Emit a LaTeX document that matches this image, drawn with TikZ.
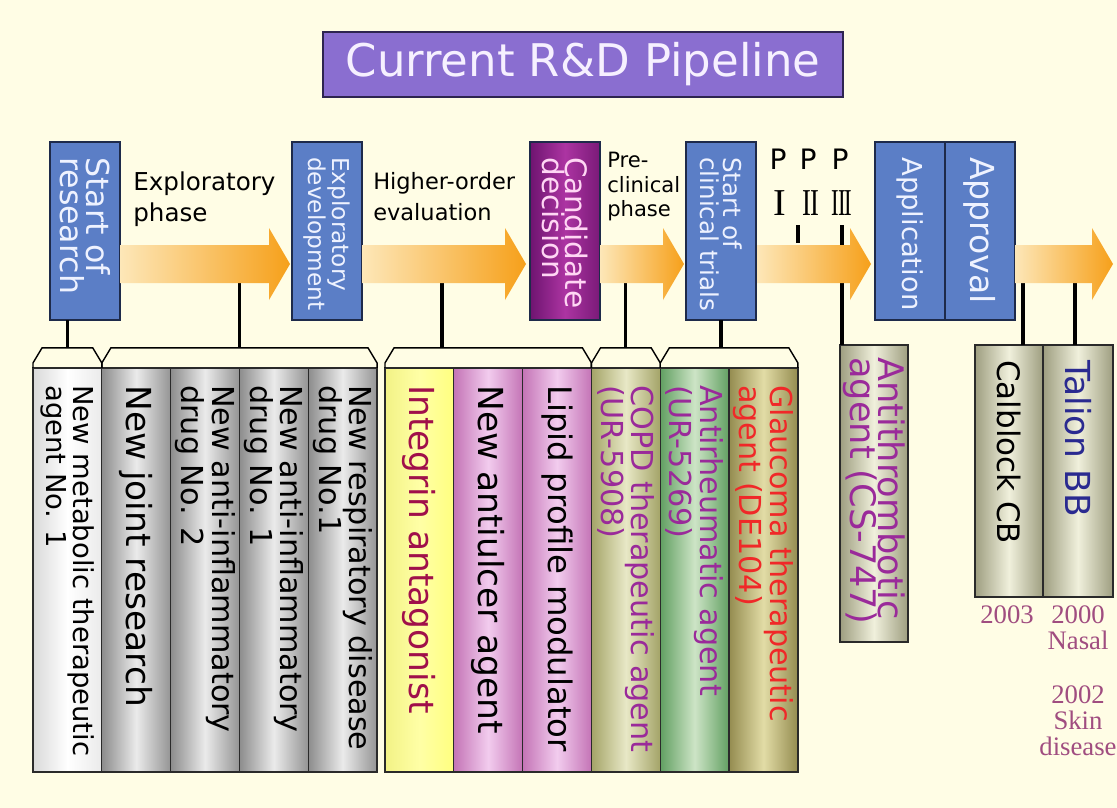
\documentclass[tikz,border=0pt]{standalone}
\usepackage{fontspec}
\setmainfont{DejaVu Sans}
\newfontfamily\serifnum{Liberation Serif}
\usepackage{graphicx}
\usetikzlibrary{positioning,calc}
\definecolor{bgcream}{HTML}{FFFDE5}
\definecolor{titlepurple}{HTML}{8A6ED0}
\definecolor{titleline}{HTML}{2E2450}
\definecolor{titlefont}{HTML}{F6F0FF}
\definecolor{stageblue}{HTML}{5B7EC6}
\definecolor{stageline}{HTML}{1E2A4A}
\definecolor{stagefont}{HTML}{EEF2FF}
\definecolor{candleft}{HTML}{6E1470}
\definecolor{candmid}{HTML}{AC34A2}
\definecolor{candright}{HTML}{7A1A78}
\definecolor{candfont}{HTML}{FFD6F4}
\definecolor{flowpale}{HTML}{FDE7B8}
\definecolor{floworange}{HTML}{F6A01A}
\definecolor{barline}{HTML}{2A2A2A}
\definecolor{yearplum}{HTML}{A04D80}
\definecolor{integrinred}{HTML}{A0104A}
\definecolor{codepurple}{HTML}{9A2A9A}
\definecolor{glaucred}{HTML}{F02828}
\definecolor{talionblue}{HTML}{2A2A90}
\definecolor{oliveedge}{HTML}{A4A468}
\definecolor{olivemid}{HTML}{E8E8C6}
\definecolor{goldedge}{HTML}{948C50}
\definecolor{goldmid}{HTML}{E2DCA6}
\definecolor{greenedge}{HTML}{62A062}
\definecolor{greenmid}{HTML}{CDE4C6}
\definecolor{pinkedge}{HTML}{C474B6}
\definecolor{pinkmid}{HTML}{F2CCEE}
\definecolor{khakiedge}{HTML}{9E9E80}
\definecolor{khakimid}{HTML}{F0F0DC}

\begin{document}
\begin{tikzpicture}[x=0.025cm, y=-0.025cm,
  stagebox/.style={rectangle, draw=stageline, line width=1.2pt, fill=stageblue,
    minimum width=1.75cm, minimum height=4.45cm, inner sep=0pt, outer sep=0pt},
  stagetext/.style={rotate=-90, anchor=west, inner sep=0pt, align=left, text=stagefont},
  barbox/.style={rectangle, draw=barline, line width=0.9pt, minimum width=1.72cm,
    minimum height=10.1cm, inner sep=0pt, outer sep=0pt},
  whitebar/.style={barbox, left color=black!15, right color=black!8, middle color=white},
  greybar/.style={barbox, left color=black!45, right color=black!42, middle color=black!8},
  yellowbar/.style={barbox, left color=yellow!45!white!95!black, right color=yellow!50, middle color=yellow!35},
  pinkbar/.style={barbox, left color=pinkedge, right color=pinkedge, middle color=pinkmid},
  olivebar/.style={barbox, left color=oliveedge, right color=oliveedge, middle color=olivemid},
  greenbar/.style={barbox, left color=greenedge, right color=greenedge, middle color=greenmid},
  goldbar/.style={barbox, left color=goldedge, right color=goldedge, middle color=goldmid},
  khakibar/.style={barbox, minimum width=1.7cm, left color=khakiedge, right color=khakiedge, middle color=khakimid},
  bartext/.style={rotate=-90, anchor=west, inner sep=0pt, align=left, font=\fontsize{21.5}{15.6}\selectfont},
  singletext/.style={bartext, font=\fontsize{24.5}{28}\selectfont},
  phasetext/.style={anchor=north west, inner sep=0pt, align=left},
  yeartext/.style={font=\serifnum\fontsize{19}{18.5}\selectfont, text=yearplum, inner sep=0pt, align=center},
  capline/.style={draw=black, line width=1pt},
  link/.style={line width=2.2pt, draw=black},
  flowarrow/.style={left color=flowpale, right color=floworange}
]

% background sheet
\fill[bgcream] (0,0) rectangle (1117,808);
\useasboundingbox (0,0) rectangle (1117,808);

% title
\node[draw=titleline, line width=1.2pt, fill=titlepurple, minimum width=13cm, minimum height=1.625cm,
  text=titlefont, font=\fontsize{32}{38}\selectfont] (title) at (583,64.5) {Current R\&D Pipeline};

% milestone boxes
\node[stagebox] (research) at (85,231) {};
\node[stagetext, font=\fontsize{22.5}{16}\selectfont] (researchtxt) at ($(research.north)+(0,15)$) {Start of\\research};
\node[stagebox] (expdev) at (327,231) {};
\node[stagetext, font=\fontsize{16.5}{15}\selectfont] (expdevtxt) at ($(expdev.north)+(0,15)$) {Exploratory\\development};
\node[stagebox, left color=candleft, right color=candright, middle color=candmid] (candidate) at (565,231) {};
\node[stagetext, text=candfont, font=\fontsize{21}{16.5}\selectfont] (candidatetxt) at ($(candidate.north)+(0,15)$) {Candidate\\decision};
\node[stagebox] (clinical) at (721,231) {};
\node[stagetext, font=\fontsize{17.5}{16}\selectfont] (clinicaltxt) at ($(clinical.north)+(0,15)$) {Start of\\clinical trials};
\node[stagebox] (application) at (910,231) {};
\node[stagetext, font=\fontsize{19.5}{20}\selectfont] (applicationtxt) at ($(application.north)+(0,15)$) {Application};
\node[stagebox, right=0pt of application] (approval) {};
\node[stagetext, font=\fontsize{23.5}{24}\selectfont] (approvaltxt) at ($(approval.north)+(0,15)$) {Approval};

% phase labels between the milestones
\node[phasetext, font=\fontsize{17.5}{22}\selectfont] (explabel) at (133,172) {Exploratory\\phase};
\node[phasetext, font=\fontsize{16}{22}\selectfont] (evallabel) at (373,172) {Higher-order\\evaluation};
\node[phasetext, font=\fontsize{15}{17.4}\selectfont] (prelabel) at (607,152) {Pre-\\clinical\\phase};

% clinical phases P I / P II / P III
\node[anchor=base, font=\fontsize{20}{22}\selectfont] (pI) at (778,169) {P};
\node[anchor=base, font=\fontsize{20}{22}\selectfont] (pII) at (808,169) {P};
\node[anchor=base, font=\fontsize{20}{22}\selectfont] (pIII) at (840,169) {P};
\node[anchor=base, font=\serifnum\fontsize{27}{30}\selectfont] (nI) at (780,215) {I};
\node[anchor=base, font=\serifnum\fontsize{27}{30}\selectfont] (nII) at (811,215) {\scalebox{0.7}[1]{I\kern-0.06em I}};
\node[anchor=base, font=\serifnum\fontsize{27}{30}\selectfont] (nIII) at (842,215) {\scalebox{0.6}[1]{I\kern-0.06em I\kern-0.06em I}};

% compounds in the research stages
\node[whitebar] (bar1) at (67.4,570) {};
\node[greybar, right=0pt of bar1] (bar2) {};
\node[greybar, right=0pt of bar2] (bar3) {};
\node[greybar, right=0pt of bar3] (bar4) {};
\node[greybar, right=0pt of bar4] (bar5) {};
\node[bartext, font=\fontsize{19.5}{15.6}\selectfont] (bar1txt) at ($(bar1.north)+(0,17)$) {New metabolic therapeutic\\agent No. 1};
\node[singletext] (bar2txt) at ($(bar2.north)+(0,17)$) {New joint research};
\node[bartext] (bar3txt) at ($(bar3.north)+(0,17)$) {New anti-inflammatory\\drug No. 2};
\node[bartext] (bar4txt) at ($(bar4.north)+(0,17)$) {New anti-inflammatory\\drug No. 1};
\node[bartext] (bar5txt) at ($(bar5.north)+(0,17)$) {New respiratory disease\\drug No.1};

\node[yellowbar] (bar6) at (419.4,570) {};
\node[pinkbar, right=0pt of bar6] (bar7) {};
\node[pinkbar, right=0pt of bar7] (bar8) {};
\node[olivebar, right=0pt of bar8] (bar9) {};
\node[greenbar, right=0pt of bar9] (bar10) {};
\node[goldbar, right=0pt of bar10] (bar11) {};
\node[singletext, text=integrinred] (bar6txt) at ($(bar6.north)+(0,17)$) {Integrin antagonist};
\node[singletext] (bar7txt) at ($(bar7.north)+(0,17)$) {New antiulcer agent};
\node[singletext, font=\fontsize{23}{26}\selectfont] (bar8txt) at ($(bar8.north)+(0,17)$) {Lipid profile modulator};
\node[bartext, text=codepurple] (bar9txt) at ($(bar9.north)+(0,17)$) {COPD therapeutic agent\\(UR-5908)};
\node[bartext, text=codepurple] (bar10txt) at ($(bar10.north)+(0,17)$) {Antirheumatic agent\\(UR-5269)};
\node[bartext, text=glaucred] (bar11txt) at ($(bar11.north)+(0,17)$) {Glaucoma therapeutic\\agent (DE104)};

% compounds in clinical trials and on the market
\node[khakibar, minimum height=7.425cm] (antithromb) at (874,493.5) {};
\node[bartext, text=codepurple, font=\fontsize{25}{20}\selectfont] (antithrombtxt) at ($(antithromb.north)+(0,12)$) {Antithrombotic\\agent (CS-747)};
\node[khakibar, minimum height=6.3cm] (calblock) at (1009,471) {};
\node[khakibar, minimum width=1.75cm, minimum height=6.3cm, right=0pt of calblock] (talion) {};
\node[singletext, font=\fontsize{22}{24}\selectfont] (calblocktxt) at ($(calblock.north)+(0,15)$) {Calblock CB};
\node[singletext, text=talionblue] (taliontxt) at ($(talion.north)+(0,15)$) {Talion BB};

% launch years
\node[yeartext, anchor=base] (y2003) at (1007,623) {2003};
\node[yeartext, anchor=north] (y2000) at (1078,605) {2000\\Nasal};
\node[yeartext, anchor=north] (y2002) at (1078,685) {2002\\Skin\\disease};

% group caps over the compound bars
\foreach \first/\last/\cap in {bar1/bar1/capA, bar2/bar5/capB, bar6/bar8/capC, bar9/bar9/capD, bar10/bar11/capE}{
  \draw[capline] (\first.north west) -- ++(0,-5) -- ++(9,-15) -- ($(\last.north east)+(-9,-20)$) -- ++(9,15) -- (\last.north east);
  \coordinate (\cap) at ($(\first.north west)!0.5!(\last.north east)+(0,-20)$);
}

% links from the pipeline to the compounds
\coordinate (flowbase) at (0,283);
\coordinate (evalfoot) at (442,283);
\coordinate (ptickII) at (798,225);
\coordinate (ptickIII) at (842,225);
\coordinate (cbfoot) at (1023,283);
\coordinate (tbfoot) at (1075,283);
\draw[link] (research.south -| capA) -- (capA);
\draw[link] (capB |- flowbase) -- (capB);
\draw[link] (evalfoot) -- (evalfoot |- capC);
\draw[link] (capD |- flowbase) -- (capD);
\draw[link] (clinical.south) -- (clinical.south |- capE);
\draw[link] (ptickII) -- ++(0,18);
\draw[link] (ptickIII) -- (ptickIII |- antithromb.north);
\draw[link] (cbfoot) -- (cbfoot |- calblock.north);
\draw[link] (tbfoot) -- (tbfoot |- talion.north);

% pipeline arrows
\foreach \xa/\xb in {120/290, 362/526, 600/684, 757/871, 1015/1113}{
  \shade[flowarrow] (\xa,245) -- (\xb-21,245) -- (\xb-21,228) -- (\xb,264) -- (\xb-21,300) -- (\xb-21,283) -- (\xa,283) -- cycle;
}

\end{tikzpicture}
\end{document}
